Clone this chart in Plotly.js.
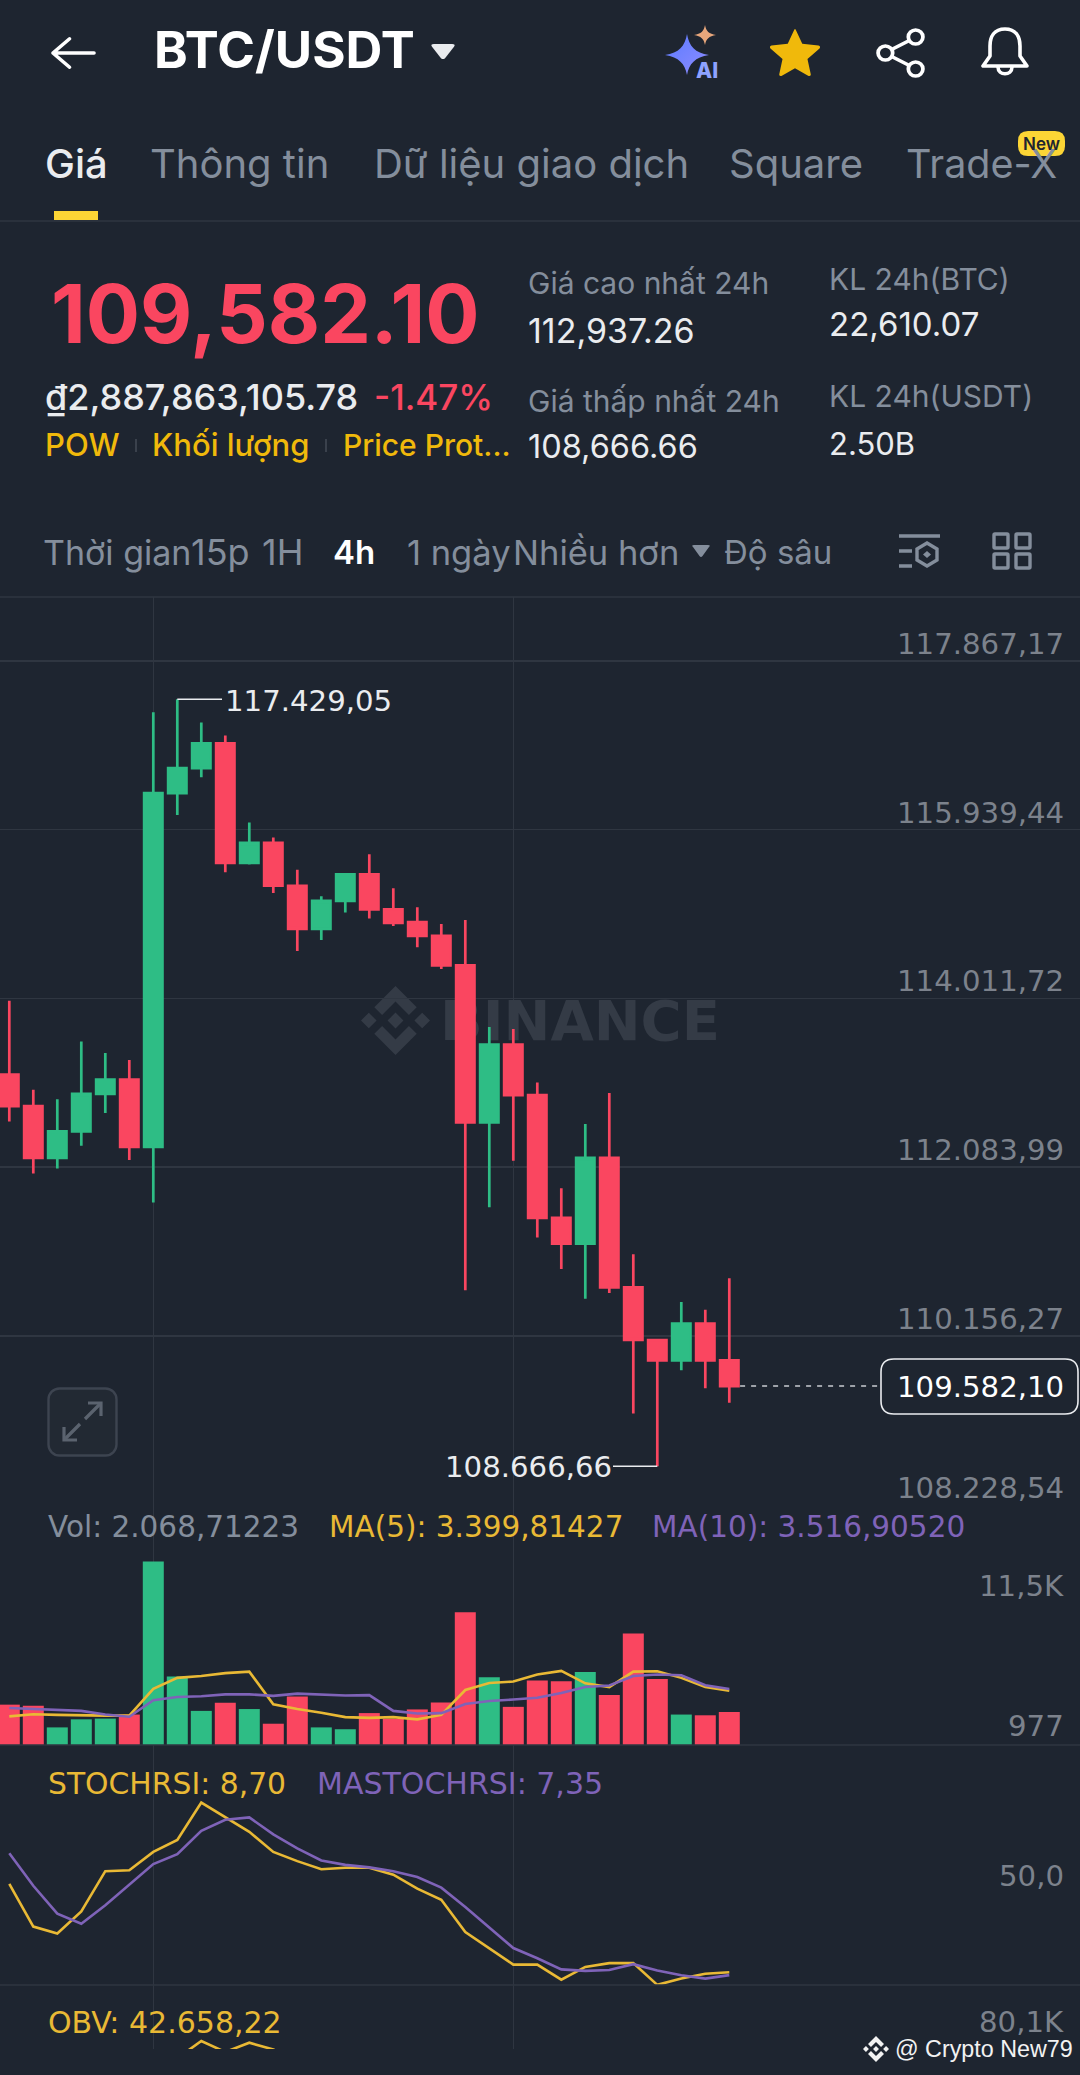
<!DOCTYPE html>
<html><head><meta charset="utf-8">
<script src="https://cdn.plot.ly/plotly-3.0.1.min.js"></script>
<style>html,body{margin:0;padding:0;background:#1e2530;overflow:hidden}#c{width:1080px;height:2075px}</style>
</head><body><div id="c"></div>
<script>
// ---------- data ----------
const opens  = [113140,112781,112189,112492,112921,113084,112314,116358,116643,116927,115561,115789,115299,114805,115127,115430,115029,114884,114726,114390,112594,113485,112907,111503,111209,112189,110710,110108,109875,110295,109875];
const highs  = [113984,112967,112860,113518,113387,113308,117282,117429.05,117165,117016,116022,115850,115481,115178,115439,115658,115271,115052,114861,114908,113686,113662,113051,111843,112576,112930,111088,110108,110542,110453,110813];
const lows   = [112604,112011,112067,112328,112702,112165,111680,116106,116540,115453,115542,115215,114553,114679,114992,114926,114838,114595,114348,110677,111624,112156,111279,110920,110579,110645,109269,108666.66,109763,109558,109390];
const closes = [112781,112189,112492,112921,113084,112314,116358,116643,116927,115561,115789,115299,114805,115127,115430,115029,114875,114726,114390,112594,113485,112907,111503,111209,112189,110710,110108,109875,110295,109875,109582.10];
const volumes= [2530,2461,1104,1610,1656,1909,11500,4301,2139,2645,2254,1334,3036,1104,989,2001,1633,2231,2668,8326,4255,2392,4048,4002,4577,3128,6992,4140,1909,1863,2068.71];
const volMA5 = [1794,1932,1886,1840,1840,1840,3519,4209,4324,4508,4600,2553,2254,2024,1748,1702,1748,1610,1886,3450,3887,3979,4416,4646,3864,3634,4600,4623,4209,3634,3399.81];
const volMA10= [2323,2254,2208,2139,1909,1771,2806,3013,3059,3174,3174,3082,3220,3174,3105,3128,2139,1978,2001,2576,2760,2852,2967,3266,3634,3726,4324,4416,4370,3749,3516.91];
const stoch  = [51.0,30.6,27.3,37.8,57.1,57.5,66.3,72.0,89.9,82.9,75.9,66.3,61.9,58.0,58.7,58.7,55.4,48.7,43.4,28.0,20.3,12.4,12.4,5.2,11.3,13.1,13.1,2.7,5.7,8.0,8.70];
const stochMA= [65.7,50.1,36.8,31.9,40.8,50.5,60.5,65.2,76.4,81.7,82.8,74.7,68.0,62.2,60.1,58.9,57.1,54.3,49.2,39.9,30.3,20.3,15.4,10.1,9.4,9.8,12.6,9.6,7.3,5.7,7.35];
const obvIndex = [6,7,8,9,10,11,12,13];
const obv    = [70000,74068,78012,75460,77618,76040,73604,70000];
const priceTicks = [117867.17,115939.44,114011.72,112083.99,110156.27,108228.54];
const priceTickLabels = ['117.867,17','115.939,44','114.011,72','112.083,99','110.156,27','108.228,54'];
const lastPrice = 109582.10, highMark = 117429.05, lowMark = 108666.66;
const timeGrid = [6,21];

// ---------- palette and frame ----------
const BG='#1e2530', GRID='#2f3641', GREEN='#2ebd85', RED='#fa4660', YEL='#e9b935', PUR='#7f63b8', GRAY='#848e9c', TICK='#7c828c', LABEL='#f0b90b';
const W=1080,H=2075;
const px=v=>v/W, py=v=>1-v/H;
const idx=p=>(p-9.3)/24;
const dom=(t,b)=>[py(b),py(t)];
const index=opens.map((_,i)=>i);
const barColors=opens.map((o,i)=>closes[i]>=o?GREEN:RED);
const priceScale=(priceTicks[0]-priceTicks[5])/(1504.5-661);
const priceRange=[priceTicks[5]-0.5*priceScale, priceTicks[0]+(661-597)*priceScale];

// ---------- text helper ----------
const anns=[];
function T(text,x,y,size,color,o={}){
  const left=!o.a;
  anns.push({text,x:px(left?x-2.5:x),y:py(y),xref:'paper',yref:'paper',xanchor:o.a||'left',yanchor:'middle',showarrow:false,borderpad:0,
    font:{family:o.f||'Inter',size,color,weight:o.w||400}});
}
function A(text,yval,yref,anchor,color,shift){
  anns.push({text,x:px(1065),y:yval,xref:'paper',yref,xanchor:'right',yanchor:anchor,yshift:shift||0,showarrow:false,borderpad:0,
    font:{family:'DejaVu Sans',size:29.2,color}});
}
T('BTC/USDT',155,50,51,'#fff',{w:700});
T('Giá',46,164,40,'#eaecef',{w:500});
T('Thông tin',151,164,40,GRAY);
T('Dữ liệu giao dịch',375,164,40,GRAY);
T('Square',730,164,40,GRAY);
T('Trade-X',907,164,39.5,GRAY);
T('New',1041,144,17,'#1e2530',{a:'center',w:600});
T('AI',707,71,21,'#8ea2ff',{a:'center',w:800});
T('109,582.10',52,313,80.5,RED,{w:700});
T('₫2,887,863,105.78',46,397,36,'#eaecef',{w:500});
T('-1.47%',375,397,35,RED,{w:500});
T('POW',46,445,31,LABEL,{w:500});
T('Khối lượng',153,445,31,LABEL,{w:500});
T('Price Prot...',344,445,30,LABEL,{w:500});
T('Giá cao nhất 24h',529,283,30,GRAY);
T('112,937.26',529,330,34,'#eaecef');
T('Giá thấp nhất 24h',529,401,30,GRAY);
T('108,666.66',529,447,32.5,'#eaecef');
T('KL 24h(BTC)',830,279,30,GRAY);
T('22,610.07',830,324,33,'#eaecef');
T('KL 24h(USDT)',830,396,30,GRAY);
T('2.50B',830,443,31,'#eaecef');
T('Thời gian',44,552,34,GRAY);
T('15p',192,552,36,GRAY);
T('1H',263,552,36,GRAY);
T('4h',334,552,33,'#fff',{w:600});
T('1 ngày',408,552,34.5,GRAY);
T('Nhiều hơn',514,552,34.5,GRAY);
T('Độ sâu',725,552,33,GRAY);
T('Vol: 2.068,71223',49,1527,29.5,GRAY,{f:'DejaVu Sans'});
T('MA(5): 3.399,81427',330,1527,29.5,YEL,{f:'DejaVu Sans'});
T('MA(10): 3.516,90520',653,1527,29.5,PUR,{f:'DejaVu Sans'});
T('STOCHRSI: 8,70',49,1783,29.8,YEL,{f:'DejaVu Sans'});
T('MASTOCHRSI: 7,35',318,1783,30,PUR,{f:'DejaVu Sans'});
T('OBV: 42.658,22',49,2022,30,YEL,{f:'DejaVu Sans'});
T('117.429,05',226,701,29.2,'#eaecef',{f:'DejaVu Sans'});
T('108.666,66',613,1467,29.2,'#eaecef',{f:'DejaVu Sans',a:'right'});
T('109.582,10',1065,1387,29.2,'#fff',{f:'DejaVu Sans',a:'right'});
T('@ Crypto New79',896,2049,23.3,'#f2f2f2',{f:'Liberation Sans'});
priceTicks.forEach((v,i)=>A(priceTickLabels[i],v,'y','bottom',TICK,-1));
A('11,5K',11500,'y2','top',TICK,-6);
A('977',977,'y2','middle',TICK,3);
A('50,0',50,'y3','bottom',TICK,-8);
A('80,1K',80100,'y4','bottom',TICK,-8);

// ---------- icons ----------
const svg=s=>'data:image/svg+xml;utf8,'+encodeURIComponent(s);
const images=[];
function I(body,vb,x,y,w,h,layer){
  images.push({source:svg(`<svg xmlns="http://www.w3.org/2000/svg" viewBox="${vb}" preserveAspectRatio="none">${body}</svg>`),xref:'paper',yref:'paper',
    x:px(x),y:py(y),sizex:w/W,sizey:h/H,sizing:'stretch',xanchor:'left',yanchor:'top',layer:layer||'above'});
}
const logoPath='M38.73 53.2l24.59-24.58 24.6 24.6 14.3-14.31L63.32 0 24.43 38.9l14.3 14.3zM0 63.31l14.3-14.31 14.31 14.31-14.31 14.3zM38.73 73.41l24.59 24.59 24.6-24.6 14.31 14.29-38.9 38.91-38.91-38.88-.02-.02zM98 63.31l14.3-14.31 14.31 14.3-14.31 14.32zM77.83 63.3L63.32 48.78 52.59 59.51l-1.24 1.23-2.54 2.54 14.51 14.5 14.51-14.47z';
I('<path d="M20 3L3 18L20 33M3 18H45" stroke="#fff" stroke-width="3.6" fill="none" stroke-linecap="round" stroke-linejoin="round"/>','0 0 48 36',50,36,47,34);
I('<path d="M2 3Q0 0 4 0H22Q26 0 24 3L15 16Q13 18 11 16Z" fill="#eaecef"/>','0 0 26 18',430,44,26,16);
I('<defs><linearGradient id="g" x1="0" y1="0" x2="1" y2="1"><stop offset="0" stop-color="#5a7bff"/><stop offset="1" stop-color="#8f8cff"/></linearGradient></defs><path d="M22 0C24 12 30 19 44 21C30 23 24 30 22 41C20 30 14 23 0 21C14 19 20 12 22 0Z" fill="url(#g)"/>','0 0 44 41',665,34,44,41);
I('<path d="M11 0C12 6 15 9 22 10C15 11 12 14 11 20C10 14 7 11 0 10C7 9 10 6 11 0Z" fill="#e8a77c"/>','0 0 22 20',694,25,22,20);
I('<path d="M25.6 1.5L32 15.8L47.6 17.6Q50 18.5 48.6 20.4L37 31L40.2 46.4Q40 48.6 37.6 47.8L25 40.2L12.4 47.8Q10 48.6 9.8 46.4L13 31L1.4 20.4Q0 18.5 2.4 17.6L18 15.8L24.4 1.5Q25 0.5 25.6 1.5Z" fill="#f0b90b"/>','0 0 50 49',769,28,52,49);
I('<g fill="none" stroke="#fff" stroke-width="3.6"><circle cx="38" cy="9" r="7"/><circle cx="9" cy="25" r="7"/><circle cx="38" cy="41" r="7"/><path d="M15 21.5L32 12.5M15 28.5L32 37.5"/></g>','0 0 47 50',876,28,49,50);
I('<g fill="none" stroke="#fff" stroke-width="3.6" stroke-linejoin="round" stroke-linecap="round"><path d="M25 3C14 3 10 11 10 20V30L3 40H47L40 30V20C40 11 36 3 25 3Z"/><path d="M18 41C18 50 32 50 32 41"/></g>','0 0 50 52',980,26,50,52);
I('<path d="M2 2Q0 0 3 0H17Q20 0 18 2L11.5 11Q10 13 8.5 11Z" fill="#848e9c"/>','0 0 20 13',691,545,20,13);
I('<g fill="none" stroke="#848e9c" stroke-width="3.4"><path d="M0 3H41M0 18H13M0 33H13" /><path d="M28 10L38 16V27L28 33L18 27V16Z"/><path d="M28 18L32 21.5L28 25L24 21.5Z" fill="#848e9c" stroke="none"/></g>','0 0 41 37',899,533,41,37);
I('<g fill="none" stroke="#848e9c" stroke-width="3.4"><rect x="2" y="2" width="14" height="14" rx="1"/><rect x="24" y="2" width="14" height="14" rx="1"/><rect x="2" y="22" width="14" height="14" rx="1"/><rect x="24" y="22" width="14" height="14" rx="1"/></g>','0 0 40 38',992,532,40,38);
I('<rect x="1.5" y="1.5" width="68" height="67" rx="11" fill="#222933" stroke="#3d4450" stroke-width="2.4"/><g fill="none" stroke="#5b636f" stroke-width="3.2"><path d="M18 52L33 37M38 32L53 17"/><path d="M41 16H54V29M30 53H17V40" /></g>','0 0 71 70',47,1387,71,70);
I(`<path d="${logoPath}" fill="#343b46"/>`,'0 0 126.61 126.61',361,986,69,69,'below');
I(`<path d="${logoPath}" fill="#f2f2f2"/>`,'0 0 126.61 126.61',863,2036,26,26);

// ---------- shapes ----------
const hLine=(y,c)=>({type:'line',xref:'paper',yref:'paper',x0:0,x1:1,y0:py(y),y1:py(y),line:{color:c||GRID,width:1.5}});
const rr=(x0,y0,x1,y1,r)=>{const a=px(x0),b=px(x1),c=py(y0),d=py(y1),rx=r/W,ry=r/H;
  return `M${a+rx},${c} L${b-rx},${c} Q${b},${c} ${b},${c-ry} L${b},${d+ry} Q${b},${d} ${b-rx},${d} L${a+rx},${d} Q${a},${d} ${a},${d+ry} L${a},${c-ry} Q${a},${c} ${a+rx},${c} Z`;};
const shapes=[
  hLine(221),hLine(597),hLine(1745),hLine(1985),
  {type:'rect',xref:'paper',yref:'paper',x0:px(54),x1:px(98),y0:py(211),y1:py(220),fillcolor:'#fcd535',line:{width:0}},
  {type:'path',xref:'paper',yref:'paper',path:rr(1018,131,1065,156,10),fillcolor:'#fcd535',line:{width:0}},
  {type:'line',xref:'paper',yref:'paper',x0:px(136),x1:px(136),y0:py(439),y1:py(452),line:{color:'#3a414c',width:2}},
  {type:'line',xref:'paper',yref:'paper',x0:px(326),x1:px(326),y0:py(439),y1:py(452),line:{color:'#3a414c',width:2}},
  {type:'line',xref:'x',yref:'y',x0:7,x1:idx(222),y0:highMark,y1:highMark,line:{color:'#eaecef',width:1.5}},
  {type:'line',xref:'x',yref:'y',x0:idx(613),x1:27,y0:lowMark,y1:lowMark,line:{color:'#eaecef',width:1.5}},
  {type:'line',xref:'x',yref:'y',x0:30.45,x1:idx(880),y0:lastPrice,y1:lastPrice,line:{color:'#c9ccd1',width:1.5,dash:'5px,6px'}},
  {type:'path',xref:'paper',yref:'paper',path:rr(881,1359,1078,1414,13),fillcolor:BG,line:{color:'#eaecef',width:1.6}}
];

// ---------- traces ----------
const line=(y,c,ya,x)=>({type:'scatter',mode:'lines',x:x||index,y,xaxis:'x',yaxis:ya,line:{color:c,width:2.6},hoverinfo:'skip'});
const traces=[
  {type:'scatter',mode:'text',x:[idx(580)],y:[113700],text:['BINANCE'],xaxis:'x',yaxis:'y',textposition:'middle center',
   textfont:{family:'DejaVu Sans',size:56,color:'#343b46',weight:700},hoverinfo:'skip'},
  {type:'candlestick',x:index,open:opens,high:highs,low:lows,close:closes,xaxis:'x',yaxis:'y5',whiskerwidth:0,
   increasing:{line:{color:GREEN,width:2.7},fillcolor:GREEN},decreasing:{line:{color:RED,width:2.7},fillcolor:RED},hoverinfo:'skip'},
  {type:'bar',x:index,y:volumes,xaxis:'x',yaxis:'y2',width:0.875,marker:{color:barColors,line:{width:0}},hoverinfo:'skip'},
  line(volMA5,YEL,'y2'),line(volMA10,PUR,'y2'),
  line(stoch,YEL,'y3'),line(stochMA,PUR,'y3'),
  line(obv,YEL,'y4',obvIndex)
];
const blank={showticklabels:false,ticks:'',zeroline:false,showline:false,showgrid:false,fixedrange:true};
const layout={
  width:W,height:H,margin:{l:0,r:0,t:0,b:0,pad:0},paper_bgcolor:BG,plot_bgcolor:BG,showlegend:false,hovermode:false,dragmode:false,boxgap:0.2375,boxgroupgap:0,
  xaxis:{...blank,range:[idx(0),idx(W)],anchor:'y4',tickmode:'array',tickvals:timeGrid,showgrid:true,gridcolor:GRID,gridwidth:1.5,domain:[0,1],rangeslider:{visible:false}},
  yaxis:{...blank,domain:dom(597,1505),range:priceRange,tickmode:'array',tickvals:priceTicks,showgrid:true,gridcolor:GRID,gridwidth:1.5},
  yaxis5:{...blank,domain:dom(597,1505),range:priceRange,overlaying:'y',side:'left'},
  yaxis2:{...blank,domain:dom(1505,1745),range:[0,15048]},
  yaxis3:{...blank,domain:dom(1745,1985),range:[2.63,117.46]},
  yaxis4:{...blank,domain:dom(1985,2049),range:[76156,91004]},
  annotations:anns,shapes,images
};
Plotly.newPlot('c',traces,layout,{displayModeBar:false,staticPlot:true,responsive:false});
</script></body></html>
